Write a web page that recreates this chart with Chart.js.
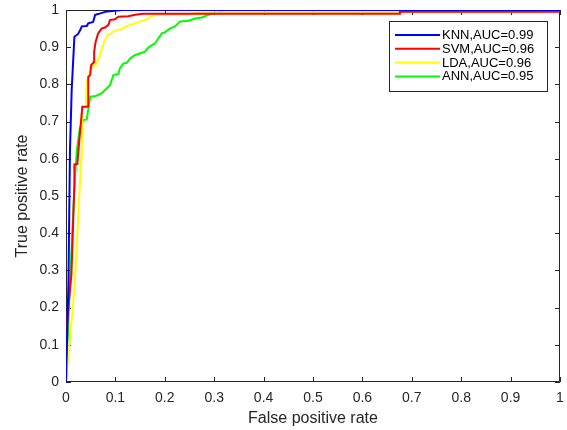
<!DOCTYPE html>
<html>
<head>
<meta charset="utf-8">
<script src="https://cdn.jsdelivr.net/npm/chart.js@4.4.0/dist/chart.umd.min.js"></script>
<style>
    html, body { margin: 0; padding: 0; background: #fff; }
    #wrap { width: 567px; height: 430px; }
</style>
</head>
<body>
<div id="wrap"><canvas id="myChart" width="567" height="430"></canvas></div>
<script>
// ROC curves (false positive rate / true positive rate)
const seriesNames = ['KNN,AUC=0.99', 'SVM,AUC=0.96', 'LDA,AUC=0.96', 'ANN,AUC=0.95']
const seriesColors = ['#0000ff', '#ff0000', '#ffff00', '#00ff00']

const knnFpr = [0, 0.005, 0.008, 0.0115, 0.017, 0.024, 0.028, 0.032, 0.042, 0.045, 0.055, 0.059, 0.065, 0.079, 0.113, 1]
const knnTpr = [0, 0.27, 0.62, 0.785, 0.928, 0.935, 0.944, 0.956, 0.957, 0.964, 0.968, 0.987, 0.989, 0.995, 1, 1]

const svmFpr = [0, 0, 0.011, 0.017, 0.017, 0.023, 0.025, 0.033, 0.045, 0.045, 0.049, 0.051, 0.057, 0.057, 0.06, 0.065, 0.072, 0.079, 0.086, 0.089, 0.099, 0.106, 0.126, 0.14, 0.156, 0.676, 0.676, 1]
const svmTpr = [0, 0.13, 0.29, 0.53, 0.585, 0.586, 0.62, 0.74, 0.74, 0.82, 0.825, 0.852, 0.86, 0.888, 0.915, 0.937, 0.95, 0.953, 0.96, 0.973, 0.975, 0.982, 0.983, 0.987, 0.99, 0.99, 0.995, 0.995]

const ldaFpr = [0, 0.018, 0.028, 0.032, 0.033, 0.04, 0.042, 0.045, 0.049, 0.055, 0.062, 0.072, 0.076, 0.084, 0.092, 0.099, 0.113, 0.12, 0.14, 0.147, 0.16, 0.173, 0.18, 0.248, 0.254, 0.268, 0.308, 0.96, 0.96, 1]
const ldaTpr = [0, 0.266, 0.53, 0.62, 0.74, 0.74, 0.81, 0.815, 0.844, 0.848, 0.855, 0.892, 0.91, 0.933, 0.937, 0.946, 0.948, 0.955, 0.964, 0.968, 0.973, 0.982, 0.987, 0.988, 0.99, 0.993, 0.994, 0.995, 1, 1]

const annFpr = [0, 0.008, 0.017, 0.022, 0.028, 0.035, 0.042, 0.049, 0.06, 0.072, 0.082, 0.089, 0.096, 0.106, 0.109, 0.116, 0.123, 0.13, 0.14, 0.16, 0.167, 0.18, 0.187, 0.194, 0.2, 0.21, 0.22, 0.231, 0.248, 0.261, 0.275, 0.288, 0.308, 0.315, 0.32, 1]
const annTpr = [0, 0.266, 0.525, 0.624, 0.682, 0.704, 0.706, 0.767, 0.769, 0.776, 0.789, 0.798, 0.825, 0.828, 0.843, 0.856, 0.858, 0.87, 0.879, 0.888, 0.9, 0.91, 0.924, 0.937, 0.94, 0.95, 0.955, 0.969, 0.971, 0.977, 0.98, 0.987, 0.993, 0.997, 1, 1]

const xTickLabels = ['0', '0.1', '0.2', '0.3', '0.4', '0.5', '0.6', '0.7', '0.8', '0.9', '1']
const yTickLabels = ['0', '0.1', '0.2', '0.3', '0.4', '0.5', '0.6', '0.7', '0.8', '0.9', '1']

const axisColor = '#262626'
const fontFamily = "'Liberation Sans', Arial, sans-serif"

function toPoints(xs, ys) {
    return xs.map((x, i) => ({ x : x, y : ys[i] }))
}

// matlab style box with inward ticks on all four sides
const boxPlugin = {
    id : 'boxPlugin',
    beforeDatasetsDraw(chart) {
        const { ctx, chartArea : a, scales } = chart
        ctx.save()
        ctx.strokeStyle = axisColor
        ctx.lineWidth = 1
        ctx.beginPath()
        ctx.rect(Math.round(a.left) + 0.5, Math.round(a.top) + 0.5, Math.round(a.right - a.left) - 1, Math.round(a.bottom - a.top) - 1)
        ctx.stroke()

        const len = 5
        ctx.beginPath()
        scales.x.ticks.forEach((t) => {
            let px = Math.round(scales.x.getPixelForValue(t.value)) + 0.5
            ctx.moveTo(px, a.bottom); ctx.lineTo(px, a.bottom - len)
            ctx.moveTo(px, a.top); ctx.lineTo(px, a.top + len)
        })
        scales.y.ticks.forEach((t) => {
            let py = Math.round(scales.y.getPixelForValue(t.value)) + 0.5
            ctx.moveTo(a.left, py); ctx.lineTo(a.left + len, py)
            ctx.moveTo(a.right, py); ctx.lineTo(a.right - len, py)
        })
        ctx.stroke()
        ctx.restore()
    }
}

// legend box drawn inside the plot, top right
const legendPlugin = {
    id : 'legendPlugin',
    afterDraw(chart) {
        const ctx = chart.ctx
        const left = 389.5, top = 21.5, width = 158, height = 70
        ctx.save()
        ctx.fillStyle = '#ffffff'
        ctx.fillRect(left, top, width, height)
        ctx.strokeStyle = axisColor
        ctx.lineWidth = 1
        ctx.strokeRect(left, top, width, height)

        ctx.font = "13px " + fontFamily
        ctx.textBaseline = 'middle'
        chart.data.datasets.forEach((ds, i) => {
            let y = 35 + i * 13.8
            ctx.strokeStyle = ds.borderColor
            ctx.lineWidth = 2
            ctx.beginPath()
            ctx.moveTo(395, y)
            ctx.lineTo(440, y)
            ctx.stroke()
            ctx.fillStyle = '#000000'
            ctx.fillText(ds.label, 442, y + 0.5)
        })
        ctx.restore()
    }
}

const ctx = document.getElementById('myChart')

new Chart(ctx, {
    type : 'scatter',
    data : {
        datasets : [
            { label : seriesNames[0], data : toPoints(knnFpr, knnTpr), borderColor : seriesColors[0] },
            { label : seriesNames[1], data : toPoints(svmFpr, svmTpr), borderColor : seriesColors[1] },
            { label : seriesNames[2], data : toPoints(ldaFpr, ldaTpr), borderColor : seriesColors[2] },
            { label : seriesNames[3], data : toPoints(annFpr, annTpr), borderColor : seriesColors[3] }
        ].map((ds) => Object.assign(ds, {
            showLine : true,
            borderWidth : 2,
            pointRadius : 0,
            pointHoverRadius : 0,
            tension : 0,
            fill : false
        }))
    },
    options : {
        responsive : false,
        animation : false,
        devicePixelRatio : 1,
        layout : { padding : { top : 10, right : 7, left : 0, bottom : 0 } },
        plugins : {
            legend : { display : false },
            tooltip : { enabled : false }
        },
        scales : {
            x : {
                type : 'linear',
                min : 0,
                max : 1,
                afterFit : (scale) => {
                    scale.height = 48
                    scale.paddingLeft = 0
                    scale.paddingRight = 0
                },
                grid : { display : false, drawTicks : false },
                border : { display : false },
                ticks : {
                    stepSize : 0.1,
                    padding : 7.5,
                    maxRotation : 0,
                    color : axisColor,
                    font : { family : fontFamily, size : 14 },
                    callback : (v, i) => xTickLabels[i]
                },
                title : {
                    display : true,
                    text : 'False positive rate',
                    color : axisColor,
                    font : { family : fontFamily, size : 16 },
                    padding : { top : 0, bottom : 2 }
                }
            },
            y : {
                type : 'linear',
                min : 0,
                max : 1,
                afterFit : (scale) => {
                    scale.width = 66
                    scale.paddingTop = 0
                    scale.paddingBottom = 0
                },
                grid : { display : false, drawTicks : false },
                border : { display : false },
                ticks : {
                    stepSize : 0.1,
                    padding : 7,
                    color : axisColor,
                    font : { family : fontFamily, size : 14 },
                    callback : (v, i) => yTickLabels[i]
                },
                title : {
                    display : true,
                    text : 'True positive rate',
                    color : axisColor,
                    font : { family : fontFamily, size : 16 },
                    padding : { top : 13, bottom : 0 }
                }
            }
        }
    },
    plugins : [boxPlugin, legendPlugin]
});
</script>
</body>
</html>
